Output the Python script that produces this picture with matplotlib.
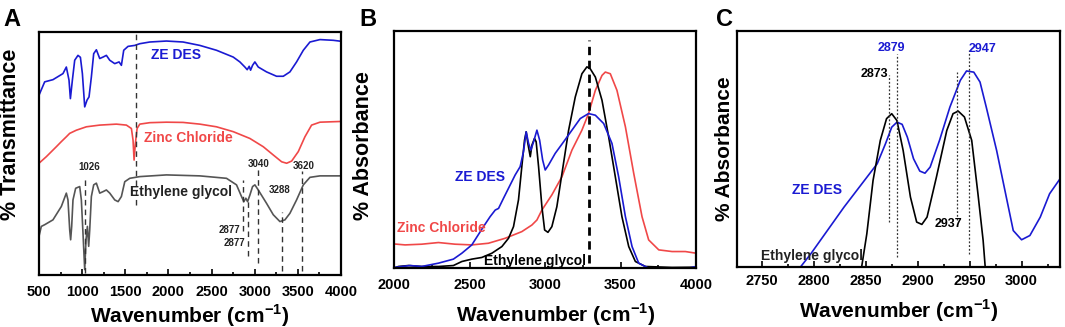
import matplotlib

matplotlib.use("Agg")
import matplotlib.pyplot as plt
from matplotlib.ticker import MultipleLocator

plt.rcParams["font.family"] = ["Liberation Sans", "DejaVu Sans"]
plt.rcParams["font.weight"] = "bold"
plt.rcParams["mathtext.fontset"] = "custom"
plt.rcParams["mathtext.rm"] = "Liberation Sans:bold"
plt.rcParams["mathtext.bf"] = "Liberation Sans:bold"

BLUE = "#1a1ad2"
RED = "#f04848"
GRAY = "#555555"

# ---- panel A: FTIR transmittance (arbitrary offset units, 0-100) ----
a_des_x = [500, 566, 662, 778, 817, 848, 864, 887, 914, 952, 980, 1003, 1030, 1057, 1080,
           1107, 1134, 1165, 1204, 1242, 1281, 1320, 1378, 1428, 1455, 1482, 1532, 1610,
           1668, 1784, 1977, 2170, 2364, 2557, 2751, 2828, 2886, 2913, 2936, 2952, 2975,
           3002, 3041, 3137, 3253, 3331, 3408, 3485, 3563, 3640, 3756, 3911, 4000]
a_des_y = [74.0, 79.5, 80.4, 82.9, 85.6, 80.2, 72.6, 80.2, 88.4, 90.4, 89.6, 82.9, 69.2, 72.0,
           73.3, 81.5, 91.1, 92.7, 89.1, 89.7, 90.4, 88.4, 87.0, 87.7, 86.3, 92.5, 94.1, 94.5,
           95.2, 95.9, 96.3, 95.9, 94.5, 92.5, 89.7, 87.7, 85.6, 84.5, 85.9, 84.3, 86.3,
           87.7, 85.6, 83.6, 81.8, 81.8, 83.6, 87.7, 92.5, 95.9, 96.9, 96.6, 96.2]

a_zn_x = [500, 585, 701, 759, 817, 856, 933, 1049, 1204, 1397, 1513, 1571, 1590, 1602, 1617,
          1637, 1668, 1784, 1977, 2170, 2364, 2557, 2751, 2944, 3099, 3215, 3312, 3370, 3428,
          3505, 3582, 3659, 3756, 4000]
a_zn_y = [46.0, 48.7, 52.8, 54.9, 56.9, 58.3, 59.6, 61.0, 61.7, 62.1, 61.7, 60.3, 55.5, 47.3,
          54.2, 60.3, 62.1, 62.7, 62.9, 62.8, 62.1, 61.0, 59.0, 56.2, 52.8, 49.4, 46.6, 46.0,
          46.9, 50.8, 56.9, 61.7, 62.9, 63.2]

a_eg_x = [500, 527, 566, 662, 759, 817, 836, 856, 867, 879, 894, 925, 972, 991, 1010, 1030,
          1045, 1061, 1076, 1088, 1107, 1134, 1165, 1204, 1242, 1281, 1320, 1378, 1417, 1455,
          1494, 1552, 1668, 1977, 2364, 2673, 2789, 2847, 2874, 2897, 2917, 2944, 2975, 3002,
          3041, 3137, 3215, 3292, 3350, 3408, 3485, 3563, 3640, 3756, 4000]
a_eg_y = [15.9, 20.0, 20.7, 22.7, 28.2, 33.7, 30.9, 18.6, 14.5, 20.0, 30.9, 35.7, 36.4, 30.9,
          17.2, 2.2, 14.5, 20.0, 11.8, 18.6, 32.3, 37.1, 37.8, 33.7, 34.3, 35.0, 33.7, 30.9,
          30.2, 32.3, 38.4, 39.8, 40.5, 41.2, 40.8, 39.8, 37.1, 32.3, 30.2, 31.6, 30.2, 32.9,
          36.4, 37.1, 35.0, 29.5, 24.8, 22.0, 22.7, 25.4, 30.9, 37.1, 40.2, 40.8, 40.8]

# peak marker lines in A: x, y from, y to
a_marks_x = [1629, 1030, 2867, 2924, 3041, 3312, 3543]
a_marks_y0 = [28.9, 0.8, 18.0, 8.0, 5.0, 1.5, 1.5]
a_marks_y1 = [100.0, 40.5, 39.0, 31.0, 45.0, 26.0, 43.0]
a_labels = ["1026", "3040", "3620", "3288", "2877", "2877"]
a_labels_x = [1080, 3041, 3563, 3292, 2712, 2770]
a_labels_y = [44.6, 45.7, 45.0, 35.0, 18.6, 13.1]

# ---- panel B: absorbance 2000-4000 ----
b_eg_x = [2000, 2029, 2095, 2183, 2294, 2393, 2449, 2515, 2581, 2648, 2714, 2758, 2791, 2824,
          2846, 2864, 2875, 2886, 2902, 2913, 2930, 2941, 2957, 2979, 2997, 3019, 3045, 3078,
          3112, 3156, 3200, 3244, 3277, 3299, 3333, 3377, 3421, 3465, 3509, 3554, 3598, 3664,
          3841, 4000]
b_eg_y = [0.0, 0.7, 1.1, 0.7, 0.7, 1.1, 2.8, 3.8, 4.5, 6.3, 9.1, 12.6, 17.5, 28.8, 42.8, 54.0,
          57.5, 52.6, 47.0, 51.9, 54.7, 53.3, 42.8, 25.9, 16.1, 15.1, 17.5, 25.9, 40.0, 58.2,
          72.2, 82.0, 84.9, 84.1, 80.6, 70.8, 55.4, 38.6, 21.7, 9.1, 2.8, 0.7, 0.3, 0.4]

b_des_x = [2000, 2051, 2106, 2183, 2294, 2393, 2449, 2515, 2592, 2636, 2670, 2692, 2725, 2769,
           2802, 2835, 2857, 2875, 2891, 2906, 2924, 2946, 2964, 2984, 3001, 3023, 3067, 3123,
           3178, 3233, 3288, 3333, 3388, 3443, 3487, 3532, 3576, 3620, 3686, 3841, 3951, 4000]
b_des_y = [0.3, 0.7, 1.1, 0.7, 2.1, 3.8, 6.3, 9.8, 17.5, 21.7, 24.5, 25.2, 29.5, 35.1, 39.3,
           42.8, 49.1, 57.5, 52.6, 49.8, 53.3, 58.2, 54.0, 45.6, 41.4, 43.5, 48.4, 53.3, 58.2,
           63.1, 65.2, 64.5, 61.0, 52.6, 38.6, 21.7, 9.1, 2.1, 0.0, 0.0, 0.0, 0.7]

b_zn_x = [2000, 2073, 2183, 2294, 2404, 2515, 2625, 2736, 2846, 2913, 2946, 2979, 3045, 3112,
          3178, 3244, 3288, 3333, 3377, 3399, 3432, 3476, 3532, 3587, 3642, 3686, 3753, 3841,
          3929, 4000]
b_zn_y = [10.2, 9.8, 10.1, 10.8, 10.1, 9.8, 10.5, 12.6, 15.4, 18.2, 20.3, 24.5, 30.9, 38.6,
          49.8, 58.2, 65.2, 75.0, 81.3, 82.7, 82.0, 75.0, 59.6, 40.0, 21.7, 11.9, 7.7, 7.0,
          7.0, 6.3]

b_mark_x = 3288

# ---- panel C: zoom on C-H stretch region ----
c_des_x = [2787, 2797, 2813, 2829, 2845, 2861, 2869, 2875, 2880, 2885, 2890, 2896, 2902, 2907,
           2912, 2921, 2931, 2941, 2947, 2954, 2960, 2966, 2976, 2986, 2992, 3000, 3008, 3018,
           3027, 3037]
c_des_y = [0.0, 5.6, 15.5, 25.4, 34.6, 43.8, 52.3, 59.3, 61.4, 60.5, 55.1, 45.9, 40.7, 39.8,
           42.4, 53.7, 67.8, 79.1, 83.1, 82.6, 78.4, 67.8, 49.4, 28.2, 15.5, 11.6, 13.4, 21.2,
           31.1, 37.4]

c_eg_x = [2846, 2851, 2857, 2864, 2870, 2875, 2880, 2886, 2893, 2899, 2904, 2909, 2918, 2928,
          2934, 2939, 2945, 2952, 2958, 2963, 2965]
c_eg_y = [0.0, 14.1, 36.7, 53.7, 62.9, 65.0, 62.1, 49.4, 29.7, 19.1, 18.1, 21.2, 38.1, 57.9,
          65.0, 66.1, 63.6, 53.7, 31.1, 11.3, 0.0]

c_marks_x = [2872.5, 2880, 2937.6, 2949]
c_marks_y0 = [19.1, 4.5, 19.8, 5.6]
c_marks_y1 = [81.2, 90.4, 82.6, 91.8]
c_labels = ["2873", "2879", "2937", "2947"]
c_labels_x = [2858, 2875, 2930, 2962]
c_labels_y = [81.9, 92.9, 18.4, 92.5]
c_label_colors = ["black", BLUE, "black", BLUE]

XLABEL = r"Wavenumber (cm$^{\mathbf{-1}}$)"


def style_axes(ax, major, minor, pad):
    ax.set_yticks([])
    ax.xaxis.set_major_locator(MultipleLocator(major))
    ax.xaxis.set_minor_locator(MultipleLocator(minor))
    ax.tick_params(axis="x", which="both", direction="in", top=False, labelsize=10.5,
                   width=1.2, pad=pad)
    ax.tick_params(axis="x", which="major", length=4)
    ax.tick_params(axis="x", which="minor", length=2)
    for label in ax.get_xticklabels():
        label.set_fontweight("bold")
    for spine in ax.spines.values():
        spine.set_linewidth(1.6)


def set_labels(ax, ylabel, ysize, xlabel_xy, ylabel_xy):
    ax.set_xlabel(XLABEL, fontsize=15, fontweight="bold", va="baseline")
    ax.xaxis.set_label_coords(*xlabel_xy)
    ax.set_ylabel(ylabel, fontsize=ysize, fontweight="bold")
    ax.yaxis.set_label_coords(*ylabel_xy)


fig = plt.figure(figsize=(10.65, 3.27), dpi=100)

# panel A
ax_a = fig.add_axes([0.0366, 0.159, 0.2836, 0.743])
ax_a.plot(a_des_x, a_des_y, color=BLUE, lw=1.2)
ax_a.plot(a_zn_x, a_zn_y, color=RED, lw=1.2)
ax_a.plot(a_eg_x, a_eg_y, color=GRAY, lw=1.2)
for x, y0, y1 in zip(a_marks_x, a_marks_y0, a_marks_y1):
    ax_a.plot([x, x], [y0, y1], color="#333333", lw=1.0, ls=(0, (4, 3)))
for text, x, y in zip(a_labels, a_labels_x, a_labels_y):
    ax_a.text(x, y, text, fontsize=7, ha="center", va="center", color="#222222")
ax_a.text(2085, 90.4, "ZE DES", color=BLUE, fontsize=10, ha="center", va="center")
ax_a.text(2228, 56.5, "Zinc Chloride", color=RED, fontsize=10, ha="center", va="center")
ax_a.text(2151, 34.3, "Ethylene glycol", color="#222222", fontsize=10, ha="center", va="center")
ax_a.set_xlim(500, 4000)
ax_a.set_ylim(0, 100)
style_axes(ax_a, 500, 250, 7)
set_labels(ax_a, "% Transmittance", 15.5, (0.5, -0.195), (-0.058, 0.58))

# panel B
ax_b = fig.add_axes([0.370, 0.180, 0.2836, 0.725])
ax_b.plot(b_zn_x, b_zn_y, color=RED, lw=1.2)
ax_b.plot(b_eg_x, b_eg_y, color="black", lw=1.2)
ax_b.plot(b_des_x, b_des_y, color=BLUE, lw=1.2)
ax_b.plot([b_mark_x, b_mark_x], [2.1, 96.1], color="black", lw=2.0, ls=(0, (3, 2)))
ax_b.text(2570, 38.6, "ZE DES", color=BLUE, fontsize=10, ha="center", va="center")
ax_b.text(2316, 17.1, "Zinc Chloride", color=RED, fontsize=10, ha="center", va="center")
ax_b.text(2935, 3.2, "Ethylene glycol", color="black", fontsize=10, ha="center", va="center")
ax_b.set_xlim(2000, 4000)
ax_b.set_ylim(0, 100)
style_axes(ax_b, 500, 250, 7)
set_labels(ax_b, "% Absorbance", 15.5, (0.536, -0.225), (-0.068, 0.515))

# panel C
ax_c = fig.add_axes([0.692, 0.183, 0.3033, 0.722])
ax_c.plot(c_des_x, c_des_y, color=BLUE, lw=1.2)
ax_c.plot(c_eg_x, c_eg_y, color="black", lw=1.2)
for x, y0, y1 in zip(c_marks_x, c_marks_y0, c_marks_y1):
    ax_c.plot([x, x], [y0, y1], color="#333333", lw=0.9, ls=(0, (1.5, 1.5)))
for text, x, y, col in zip(c_labels, c_labels_x, c_labels_y, c_label_colors):
    ax_c.text(x, y, text, fontsize=9, ha="center", va="center", color=col)
ax_c.text(2803, 32.5, "ZE DES", color=BLUE, fontsize=10, ha="center", va="center")
ax_c.text(2798, 4.9, "Ethylene glycol", color="#222222", fontsize=10, ha="center", va="center")
ax_c.set_xlim(2726, 3037)
ax_c.set_ylim(0, 100)
style_axes(ax_c, 50, 25, 5)
set_labels(ax_c, "% Absorbance", 15, (0.5, -0.215), (-0.008, 0.5))

for letter, x in zip(["A", "B", "C"], [0.003, 0.337, 0.672]):
    fig.text(x, 0.975, letter, fontsize=17, fontweight="bold", ha="left", va="top")

fig.savefig("out.png", dpi=100, facecolor="white")
